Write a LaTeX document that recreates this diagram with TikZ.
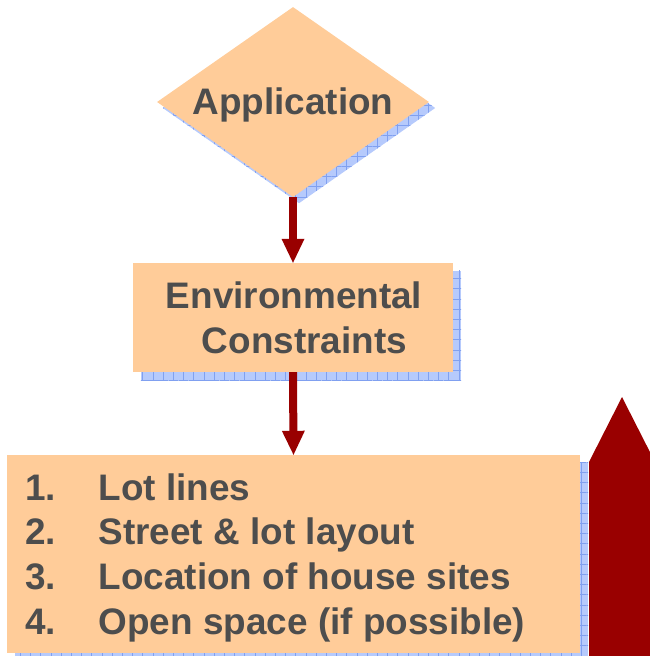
\documentclass[tikz,border=0pt]{standalone}
\usepackage{fontspec}
\setmainfont{Liberation Sans}
\usetikzlibrary{shapes.geometric,arrows.meta,patterns.meta,backgrounds}
\definecolor{peach}{RGB}{255,204,153}
\definecolor{inkgray}{RGB}{77,77,77}
\definecolor{darkred}{RGB}{153,0,0}
\definecolor{shadowblue}{RGB}{182,202,252}
\definecolor{gridblue}{RGB}{128,160,240}
\begin{document}
\begin{tikzpicture}[x=1pt,y=-1pt,
  box/.style={rectangle, fill=peach, draw=none, inner sep=0pt},
  decision/.style={diamond, fill=peach, draw=none, inner sep=0pt,
    minimum width=272pt, minimum height=190pt},
  lbl/.style={font=\bfseries\fontsize{36.9}{44.7}\selectfont, text=inkgray, inner sep=0pt},
  flow/.style={draw=darkred, line width=8pt,
    -{Triangle[length=24pt,width=23pt,line width=0pt]}},
  shadowtint/.style={fill=shadowblue},
  shadowgrid/.style={pattern={Hatch[angle=0,distance=10.2pt,line width=0.8pt]}, pattern color=gridblue},
]
\useasboundingbox (0,0) rectangle (649,656);

% shapes
\node[decision] (app) at (293,102) {};
\node[box, minimum width=320pt, minimum height=109pt] (env) at (293,317.5) {};
\node[box, minimum width=573pt, minimum height=198pt] (steps) at (293.5,554) {};

% hatched drop shadows behind the shapes
\begin{scope}[on background layer]
  \begin{scope}[transform canvas={shift={(6pt,-6pt)}}]
    \path[shadowtint] (app.north) -- (app.east) -- (app.south) -- (app.west) -- cycle;
    \path[shadowgrid] (app.north) -- (app.east) -- (app.south) -- (app.west) -- cycle;
  \end{scope}
  \begin{scope}[transform canvas={shift={(8pt,-8pt)}}]
    \path[shadowtint] (env.south west) rectangle (env.north east);
    \path[shadowgrid] (env.south west) rectangle (env.north east);
    \path[shadowtint] (steps.south west) rectangle (steps.north east);
    \path[shadowgrid] (steps.south west) rectangle (steps.north east);
  \end{scope}
\end{scope}

% connectors
\draw[flow] (app.south) -- (env.north);
\draw[flow] (env.south) -- (steps.north);

% large upward arrow at the right edge
\fill[darkred] (589,670) -- (589,462) -- (622,397) -- (655,462) -- (655,670) -- cycle;

% labels
\node[lbl, anchor=base] (tapp) at (293,114.4) {Application};
\node[lbl, anchor=base] (tenv) at (294,308.5) {Environmental};
\node[lbl, anchor=base] (tcon) at (304.5,353.5) {Constraints};

\node[lbl, anchor=base west] (n1) at (25,500) {1.};
\node[lbl, anchor=base west] (n2) at (25,544.8) {2.};
\node[lbl, anchor=base west] (n3) at (25,589.6) {3.};
\node[lbl, anchor=base west] (n4) at (25,634.4) {4.};
\node[lbl, anchor=base west] (s1) at (98.5,500) {Lot lines};
\node[lbl, anchor=base west] (s2) at (98.5,544.8) {Street \& lot layout};
\node[lbl, anchor=base west] (s3) at (98.5,589.6) {Location of house sites};
\node[lbl, anchor=base west] (s4) at (98.5,634.4) {Open space (if possible)};
\end{tikzpicture}
\end{document}
